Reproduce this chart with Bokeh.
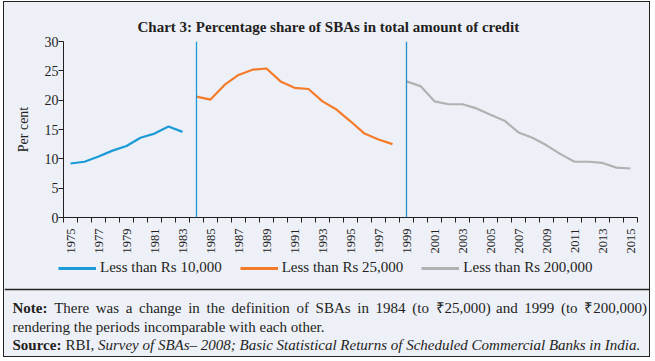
import math
from bokeh.plotting import figure
from bokeh.layouts import column
from bokeh.models import (Range1d, FixedTicker, Span, Label, Legend, LegendItem)
from bokeh.embed import file_html
from bokeh.resources import INLINE

# ---------------- data ----------------
years_a = list(range(1975, 1984))
share_a = [9.2, 9.5, 10.4, 11.4, 12.2, 13.6, 14.3, 15.5, 14.6]
years_b = list(range(1984, 1999))
share_b = [20.6, 20.1, 22.6, 24.3, 25.2, 25.4, 23.2, 22.1, 21.9, 19.8, 18.4, 16.4, 14.3, 13.3, 12.5]
years_c = list(range(1999, 2016))
share_c = [23.2, 22.4, 19.8, 19.3, 19.3, 18.6, 17.5, 16.5, 14.5, 13.6, 12.3, 10.8, 9.5, 9.5, 9.3, 8.5, 8.35]
series_names = ["Less than Rs 10,000", "Less than Rs 25,000", "Less than Rs 200,000"]
break_years = [1984, 1999]
all_years = list(range(1975, 2016))
x_label_years = list(range(1975, 2016, 2))
x_tick_labels = [str(y) for y in x_label_years]
y_ticks = [0, 5, 10, 15, 20, 25, 30]

title_text = "Chart 3: Percentage share of SBAs in total amount of credit"
note_bold = "Note:"
note_line1 = "There was a change in the definition of SBAs in 1984 (to \u20b925,000) and 1999 (to \u20b9200,000)"
note_line2 = "rendering the periods incomparable with each other."
source_bold = "Source:"
source_plain = "RBI,"
source_italic = "Survey of SBAs\u2013 2008; Basic Statistical Returns of Scheduled Commercial Banks in India."

# ---------------- styling ----------------
FONT = "Liberation Serif"
BG = "#eef0f8"
INK = "#231f20"
C_BLUE = "#1b9ad6"
C_ORANGE = "#f47b2a"
C_GREY = "#b1b1b1"
C_SPAN2 = "#2590c8"
NOTE_SIZE = 15

# Times-compatible advance widths (per 1000 em) used only to lay out the note text
_REG = dict(zip("abcdefghijklmnopqrstuvwxyz",
                [444, 500, 444, 500, 444, 333, 500, 500, 278, 278, 500, 278, 778, 500, 500, 500, 500, 333, 389, 278, 500, 500, 722, 500, 500, 444]))
_REG.update(dict(zip("ABCDEFGHIJKLMNOPQRSTUVWXYZ",
                     [722, 667, 667, 722, 611, 556, 722, 722, 333, 389, 722, 611, 889, 722, 722, 556, 722, 667, 556, 611, 722, 722, 944, 722, 722, 611])))
_REG.update({" ": 250, ",": 250, ".": 250, "(": 333, ")": 333, ":": 278, ";": 278, "\u2013": 500, "\u20b9": 500})
_REG.update({d: 500 for d in "0123456789"})
_BOLD = dict(_REG)
_BOLD.update({"N": 722, "o": 500, "t": 333, "e": 444, ":": 333, "S": 556, "u": 556, "r": 444, "c": 444})


def text_w(s, table=_REG, size=NOTE_SIZE):
    return sum(table.get(ch, 500) for ch in s) * size / 1000.0


W = 645
HP = 257
HN = 97

# ---------------- main chart ----------------
p = figure(width=W, height=HP, output_backend="svg", toolbar_location=None,
           x_range=Range1d(1974.5, 2015.5), y_range=Range1d(0, 30),
           min_border_left=59, min_border_right=12, min_border_top=39, min_border_bottom=42,
           background_fill_color=BG, border_fill_color=BG)
p.outline_line_color = None
p.grid.visible = False

p.title.text = title_text
p.title.align = "left"
p.title.offset = 74
p.title.standoff = 14
p.title.text_font = FONT
p.title.text_font_size = "15px"
p.title.text_font_style = "bold"
p.title.text_color = INK

r_a = p.line(years_a, share_a, line_color=C_BLUE, line_width=2.2)
r_b = p.line(years_b, share_b, line_color=C_ORANGE, line_width=2.2)
r_c = p.line(years_c, share_c, line_color=C_GREY, line_width=2.2)

for yr, col in zip(break_years, [C_BLUE, C_SPAN2]):
    p.add_layout(Span(location=yr, dimension="height", line_color=col, line_alpha=1.0, line_width=1.3))

xa = p.xaxis[0]
xa.ticker = FixedTicker(ticks=x_label_years,
                        minor_ticks=[y - 0.5 for y in all_years] + [all_years[-1] + 0.5])
xa.major_label_overrides = {y: s for y, s in zip(x_label_years, x_tick_labels)}
xa.major_tick_out = 0
xa.major_tick_in = 0
xa.minor_tick_out = 5
xa.minor_tick_in = 0
xa.minor_tick_line_color = INK
xa.axis_line_color = INK
xa.major_label_orientation = math.pi / 2
xa.major_label_standoff = 6
xa.major_label_text_font = FONT
xa.major_label_text_font_size = "12.5px"
xa.major_label_text_color = INK

ya = p.yaxis[0]
ya.ticker = FixedTicker(ticks=y_ticks)
ya.major_tick_out = 5
ya.major_tick_in = 0
ya.major_tick_line_color = INK
ya.axis_line_color = INK
ya.major_label_standoff = 0
ya.major_label_text_font = FONT
ya.major_label_text_font_size = "14px"
ya.major_label_text_color = INK
ya.axis_label = "Per cent"
ya.axis_label_text_font = FONT
ya.axis_label_text_font_style = "normal"
ya.axis_label_text_font_size = "14px"
ya.axis_label_text_color = INK
ya.axis_label_standoff = 11

# ---------------- legend + notes panel ----------------
n = figure(width=W, height=HN, output_backend="svg", toolbar_location=None,
           x_range=Range1d(0, W), y_range=Range1d(0, HN),
           x_axis_location=None, y_axis_location=None,
           min_border=0, min_border_left=0, min_border_right=0,
           min_border_top=0, min_border_bottom=0,
           background_fill_color=BG, border_fill_color=BG)
n.grid.visible = False
n.outline_line_color = None
for fig in (p, n):
    try:
        fig.frame_align = False
    except AttributeError:
        pass

nan = float("nan")
lg = [n.line([nan], [nan], line_color=c, line_width=3) for c in [C_BLUE, C_ORANGE, C_GREY]]
legend = Legend(items=[LegendItem(label=s, renderers=[r]) for s, r in zip(series_names, lg)],
                orientation="horizontal", location=(54, 80), glyph_width=38, glyph_height=16,
                label_standoff=4, spacing=18, padding=0, margin=0, border_line_color=None,
                background_fill_alpha=0, label_text_font=FONT, label_text_font_size="15px",
                label_text_color=INK)
n.add_layout(legend)

n.add_layout(Span(location=67, dimension="width", line_color="#222222", line_width=1.5))


def lab(x, y, t, style="normal"):
    n.add_layout(Label(x=x, y=y, text=t, text_align="left", text_baseline="middle",
                       text_font=FONT, text_font_size=f"{NOTE_SIZE}px", text_font_style=style,
                       text_color=INK))


X0, X1 = 8, 641
Y1, Y2, Y3 = 49, 30, 12

# line 1: justified between X0 and X1
words = note_line1.split(" ")
bold_w = text_w(note_bold, _BOLD)
widths = [text_w(w) for w in words]
gap = (X1 - X0 - bold_w - sum(widths)) / len(words)
lab(X0, Y1, note_bold, "bold")
x = X0 + bold_w + gap
for wd, ww in zip(words, widths):
    lab(x, Y1, wd)
    x += ww + gap

# line 2
lab(X0, Y2, note_line2)

# line 3: bold / plain / italic segments
sp = text_w(" ")
x = X0
lab(x, Y3, source_bold, "bold")
x += text_w(source_bold, _BOLD) + sp
lab(x, Y3, source_plain)
x += text_w(source_plain) + sp
lab(x, Y3, source_italic, "italic")

layout = column(p, n, spacing=0,
                styles={"border": "1px solid #222222", "background-color": BG,
                        "margin": "1px 0 0 3px"})

open("out.html", "w").write(file_html(layout, INLINE))
